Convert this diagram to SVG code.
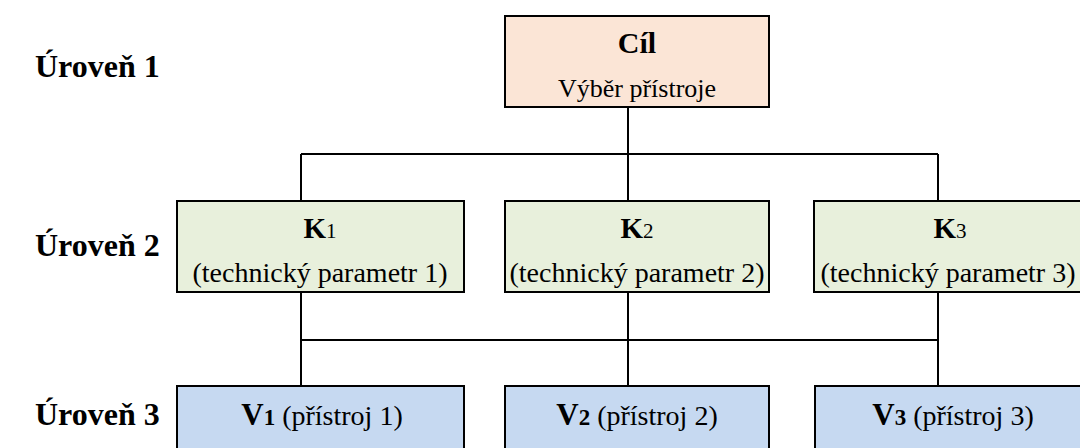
<svg xmlns="http://www.w3.org/2000/svg" width="1080" height="448" viewBox="0 0 1080 448">
<style>
.box{stroke:#000;stroke-width:2}
.goal{fill:#FBE5D6}
.crit{fill:#E8F0DC}
.var{fill:#C6D9F1}
text{font-family:'Liberation Serif','Times New Roman',serif;fill:#000}
.lvl{font-size:32px;font-weight:bold}
.ttl{font-size:29px;font-weight:bold;text-anchor:middle}
.sub{font-size:28px;text-anchor:middle}
.conn{stroke:#000;stroke-width:2;fill:none}
</style>
<rect width="1080" height="448" fill="#fff"/>
<g id="levels">
<text class="lvl" x="35" y="77">Úroveň 1</text>
<text class="lvl" x="35" y="256">Úroveň 2</text>
<text class="lvl" x="35" y="425">Úroveň 3</text>
</g>
<g id="connectors">
<path class="conn" d="M628,107V154M301,154H938M301,154V201M628,154V201M938,154V201"/>
<path class="conn" d="M301,292V386M628,292V386M938,292V386M301,340H938"/>
</g>
<g id="goal">
<rect class="box goal" x="505" y="16" width="264" height="91"/>
<text class="ttl" x="637" y="53" style="font-size:30px">Cíl</text>
<text class="sub" x="637" y="97" style="font-size:26px">Výběr přístroje</text>
</g>
<g id="k1">
<rect class="box crit" x="177" y="201" width="287" height="91"/>
<text class="ttl" x="320" y="238">K<tspan font-size="21" font-weight="normal">1</tspan></text>
<text class="sub" x="320" y="282">(technický parametr 1)</text>
</g>
<g id="k2">
<rect class="box crit" x="505" y="201" width="264" height="91"/>
<text class="ttl" x="637" y="238">K<tspan font-size="21" font-weight="normal">2</tspan></text>
<text class="sub" x="637" y="282">(technický parametr 2)</text>
</g>
<g id="k3">
<rect class="box crit" x="814" y="201" width="290" height="91"/>
<text class="ttl" x="950" y="238">K<tspan font-size="21" font-weight="normal">3</tspan></text>
<text class="sub" x="948" y="282">(technický parametr 3)</text>
</g>
<g id="v1">
<rect class="box var" x="177" y="386" width="287" height="80"/>
<text class="sub" x="322" y="425"><tspan font-weight="bold" font-size="31">V</tspan><tspan font-weight="bold" font-size="23">1</tspan> (přístroj 1)</text>
</g>
<g id="v2">
<rect class="box var" x="505" y="386" width="264" height="80"/>
<text class="sub" x="637" y="425"><tspan font-weight="bold" font-size="31">V</tspan><tspan font-weight="bold" font-size="23">2</tspan> (přístroj 2)</text>
</g>
<g id="v3">
<rect class="box var" x="815" y="386" width="290" height="80"/>
<text class="sub" x="953" y="425"><tspan font-weight="bold" font-size="31">V</tspan><tspan font-weight="bold" font-size="23">3</tspan> (přístroj 3)</text>
</g>
</svg>
